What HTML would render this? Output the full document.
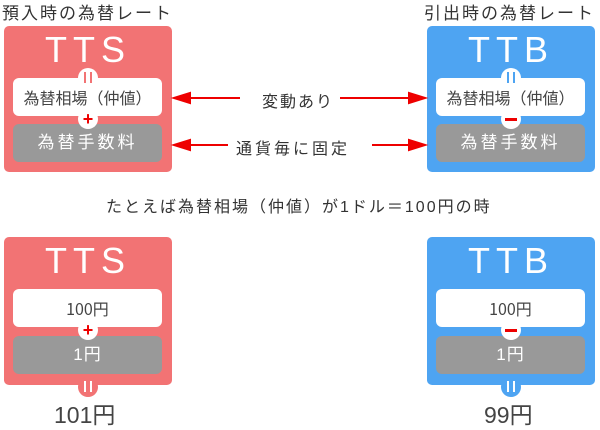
<!DOCTYPE html>
<html><head><meta charset="utf-8"><style>
body{margin:0;width:600px;height:429px;background:#fff;position:relative;overflow:hidden;font-family:"Liberation Sans","Noto Sans CJK JP",sans-serif;color:#333}
.a{position:absolute}
.box{position:absolute;width:168px;border-radius:5px}
.red{background:#f27374}.blue{background:#4ea4f2}
.title{position:absolute;left:0;width:168px;text-align:center;color:#fff;font-size:36px;letter-spacing:6px;line-height:40px}
.w{position:absolute;left:9px;width:149px;height:38px;background:#fff;border-radius:6px;text-align:center;line-height:38px;font-size:16px;color:#444;letter-spacing:0px;font-family:"Noto Sans CJK JP",sans-serif}
.g{position:absolute;left:9px;width:149px;height:38px;background:#999;border-radius:6px;text-align:center;line-height:38px;font-size:17px;color:#fff;letter-spacing:3px}
.c{position:absolute;width:20px;height:20px;border-radius:50%;text-align:center;font-weight:bold;line-height:20px;font-size:18px}
.lbl{position:absolute;font-size:15px;color:#333;white-space:nowrap}
</style></head><body>
<div class="lbl" style="left:2px;top:-1px;font-size:17px;letter-spacing:2px">預入時の為替レート</div>
<div class="lbl" style="left:424px;top:-1px;font-size:17px;letter-spacing:2px">引出時の為替レート</div>

<div class="box red" style="left:4px;top:26px;height:146px">
 <div class="title" style="top:4px">TTS</div>
 <div class="w" style="top:52px">為替相場（仲値）</div>
 <div class="g" style="top:98px">為替手数料</div>
 <div class="c" style="left:74px;top:42px;background:#fff;color:#fff"><div style="position:absolute;left:6px;top:4px;width:2px;height:11px;background:#f27374"></div><div style="position:absolute;left:12px;top:4px;width:2px;height:11px;background:#f27374"></div></div>
 <div class="c" style="left:74px;top:83px;background:#fff;color:#e00">+</div>
</div>

<div class="box blue" style="left:427px;top:26px;height:146px">
 <div class="title" style="top:4px">TTB</div>
 <div class="w" style="top:52px">為替相場（仲値）</div>
 <div class="g" style="top:98px">為替手数料</div>
 <div class="c" style="left:74px;top:42px;background:#fff"><div style="position:absolute;left:6px;top:4px;width:2px;height:11px;background:#4ea4f2"></div><div style="position:absolute;left:12px;top:4px;width:2px;height:11px;background:#4ea4f2"></div></div>
 <div class="c" style="left:74px;top:83px;background:#fff"><div style="position:absolute;left:4px;top:9px;width:12px;height:3px;background:#e00"></div></div>
</div>

<svg class="a" style="left:0;top:0" width="600" height="200">
 <g stroke="#e00" stroke-width="2" fill="#e00">
  <line x1="180" y1="98" x2="240" y2="98"/><polygon points="174,98 190,93 190,103"/>
  <line x1="340" y1="98" x2="415" y2="98"/><polygon points="425,98 409,93 409,103"/>
  <line x1="180" y1="145" x2="228" y2="145"/><polygon points="174,145 190,140 190,150"/>
  <line x1="372" y1="145" x2="415" y2="145"/><polygon points="425,145 409,140 409,150"/>
 </g>
</svg>
<div class="lbl" style="left:262px;top:88px;letter-spacing:2px;font-size:16px">変動あり</div>
<div class="lbl" style="left:236px;top:135px;letter-spacing:3px;font-size:16px">通貨毎に固定</div>
<div class="lbl" style="left:106px;top:193px;font-size:16px;letter-spacing:2px">たとえば為替相場（仲値）が1ドル＝100円の時</div>

<div class="box red" style="left:4px;top:237px;height:148px">
 <div class="title" style="top:4px">TTS</div>
 <div class="w" style="top:52px">100円</div>
 <div class="g" style="top:99px;letter-spacing:1px">1円</div>
 <div class="c" style="left:74px;top:83px;background:#fff;color:#e00">+</div>
</div>
<div class="c" style="left:78px;top:377px;background:#f27374"><div style="position:absolute;left:6px;top:4px;width:2px;height:11px;background:#fff"></div><div style="position:absolute;left:12px;top:4px;width:2px;height:11px;background:#fff"></div></div>
<div class="lbl" style="left:54px;top:396px;font-size:23px;color:#444">101円</div>

<div class="box blue" style="left:427px;top:237px;height:148px">
 <div class="title" style="top:4px">TTB</div>
 <div class="w" style="top:52px">100円</div>
 <div class="g" style="top:99px;letter-spacing:1px">1円</div>
 <div class="c" style="left:74px;top:83px;background:#fff"><div style="position:absolute;left:4px;top:9px;width:12px;height:3px;background:#e00"></div></div>
</div>
<div class="c" style="left:501px;top:377px;background:#4ea4f2"><div style="position:absolute;left:6px;top:4px;width:2px;height:11px;background:#fff"></div><div style="position:absolute;left:12px;top:4px;width:2px;height:11px;background:#fff"></div></div>
<div class="lbl" style="left:484px;top:396px;font-size:23px;color:#444">99円</div>
</body></html>
